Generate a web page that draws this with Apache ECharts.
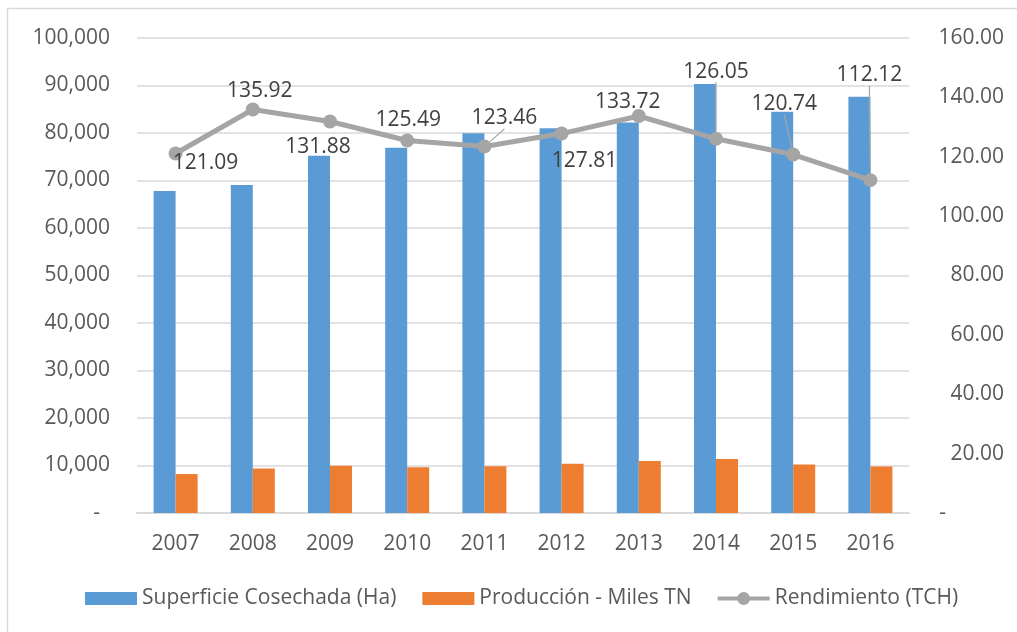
<!DOCTYPE html>
<html>
<head>
<meta charset="utf-8">
<script src="https://cdn.jsdelivr.net/npm/echarts@6/dist/echarts.min.js"></script>
<style>
  html, body { margin: 0; padding: 0; background: #fff; }
  #chart { width: 1017px; height: 632px; }
</style>
</head>
<body>
<div id="chart"></div>
<script>
// Harvest data by year
const years = ['2007', '2008', '2009', '2010', '2011', '2012', '2013', '2014', '2015', '2016'];
const superficie = [67800, 69050, 75200, 76900, 79950, 81000, 82200, 90300, 84500, 87650];
const produccion = [8200, 9350, 9950, 9650, 9850, 10350, 10950, 11350, 10200, 9800];
const rendimiento = [121.09, 135.92, 131.88, 125.49, 123.46, 127.81, 133.72, 126.05, 120.74, 112.12];

const leftTicks = { min: 0, max: 100000, interval: 10000 };
const rightTicks = { min: 0, max: 160, interval: 20 };

// Placement of each yield label relative to its marker (px), and which ones get a leader line
const labelOffsets = [[30, 10], [7, -18], [-12, 26], [1, -20], [20, -28], [23, 27], [-11, -14], [0, -67], [-9, -51], [-1, -105]];
const withLeader = [false, false, false, false, true, false, false, true, true, true];

const font = '"Open Sans", "Noto Sans", sans-serif';
const textGray = '#595959';

// Legend mark for the yield series: thick line with a round marker
const lineMarker = 'path://M0,4.5 L52,4.5 L52,8.5 L0,8.5 Z M19.5,6.5 A6.5,6.5 0 1 1 32.5,6.5 A6.5,6.5 0 1 1 19.5,6.5 Z';

const chart = echarts.init(document.getElementById('chart'), null, { renderer: 'canvas' });

chart.setOption({
  animation: false,
  backgroundColor: '#ffffff',
  textStyle: { fontFamily: font },
  graphic: [{
    type: 'rect',
    shape: { x: 7.5, y: 8.5, width: 1100, height: 700 },
    style: { fill: 'none', stroke: '#d9d9d9', lineWidth: 1.5 },
    silent: true
  }],
  grid: { left: 137, right: 108, top: 38, bottom: 119 },
  legend: {
    bottom: 18,
    left: 80,
    itemWidth: 52,
    itemHeight: 13,
    itemGap: 26,
    textStyle: { fontFamily: font, fontSize: 21, color: textGray },
    data: [
      { name: 'Superficie Cosechada (Ha)', icon: 'rect' },
      { name: 'Producción - Miles TN', icon: 'rect' },
      { name: 'Rendimiento (TCH)', icon: lineMarker, itemStyle: { color: '#a5a5a5' } }
    ]
  },
  xAxis: {
    type: 'category',
    data: years,
    axisTick: { show: false },
    axisLine: { lineStyle: { color: '#d9d9d9', width: 2 } },
    axisLabel: { fontFamily: font, fontSize: 21, color: textGray, margin: 21 }
  },
  yAxis: [{
    type: 'value',
    min: leftTicks.min, max: leftTicks.max, interval: leftTicks.interval,
    axisLine: { show: false },
    axisTick: { show: false },
    splitLine: { lineStyle: { color: '#d9d9d9', width: 1.5 } },
    axisLabel: {
      fontFamily: font, fontSize: 21, color: textGray, margin: 27,
      formatter: v => v === 0 ? '{z|-}' : v.toLocaleString('en-US'),
      rich: { z: { fontFamily: font, fontSize: 21, color: textGray, padding: [0, 10, 0, 0] } }
    }
  }, {
    type: 'value',
    min: rightTicks.min, max: rightTicks.max, interval: rightTicks.interval,
    axisLine: { show: false },
    axisTick: { show: false },
    splitLine: { show: false },
    axisLabel: {
      fontFamily: font, fontSize: 21, color: textGray, margin: 95, align: 'right',
      formatter: v => v === 0 ? '{z|-}' : v.toFixed(2),
      rich: { z: { fontFamily: font, fontSize: 21, color: textGray, padding: [0, 58, 0, 0] } }
    }
  }],
  series: [{
    name: 'Superficie Cosechada (Ha)',
    type: 'bar',
    yAxisIndex: 0,
    data: superficie,
    barWidth: 22,
    barGap: '0%',
    itemStyle: { color: '#5b9bd5' }
  }, {
    name: 'Producción - Miles TN',
    type: 'bar',
    yAxisIndex: 0,
    data: produccion,
    barWidth: 22,
    barGap: '0%',
    itemStyle: { color: '#ed7d31' }
  }, {
    name: 'Rendimiento (TCH)',
    type: 'line',
    yAxisIndex: 1,
    data: rendimiento.map((v, i) => ({
      value: v,
      labelLine: { show: withLeader[i] }
    })),
    symbol: 'circle',
    symbolSize: 14,
    z: 5,
    lineStyle: { color: '#a5a5a5', width: 5 },
    itemStyle: { color: '#a5a5a5' },
    label: {
      show: true,
      position: 'inside',
      fontFamily: font,
      fontSize: 21,
      color: '#404040',
      formatter: p => p.value.toFixed(2)
    },
    labelLine: { show: false, lineStyle: { color: '#a5a5a5', width: 1.2 } },
    labelLayout: p => {
      const off = labelOffsets[p.dataIndex];
      const cx = p.rect.x + p.rect.width / 2;
      const cy = p.rect.y + p.rect.height / 2;
      return { x: cx + off[0], y: cy + off[1], align: 'center', verticalAlign: 'middle' };
    }
  }]
});
</script>
</body>
</html>
